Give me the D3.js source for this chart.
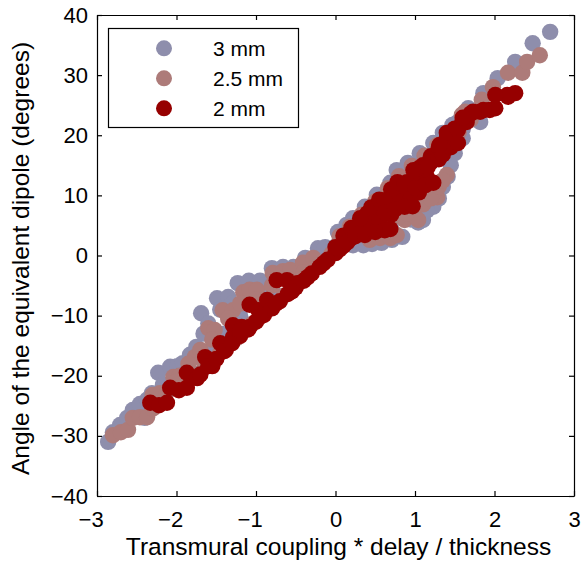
<!DOCTYPE html>
<html><head><meta charset="utf-8">
<script src="https://cdn.jsdelivr.net/npm/d3@7"></script>
<style>
body{margin:0;background:#fff}
svg{display:block}
text{font-family:"Liberation Sans",Arial,Helvetica,sans-serif;fill:#000}
</style>
</head><body>
<svg id="chart" width="582" height="562"></svg>
<script>
// ---------- data ----------
const xTicks = [-3, -2, -1, 0, 1, 2, 3];
const yTicks = [-40, -30, -20, -10, 0, 10, 20, 30, 40];
const xLabel = "Transmural coupling * delay / thickness";
const yLabel = "Angle of the equivalent dipole (degrees)";
const seriesNames = ["3 mm", "2.5 mm", "2 mm"];
const seriesColors = ["#8e8eac", "#ad7b79", "#960000"];

const mm3 = [
  [-2.86,-31.0],[-2.80,-29.4],[-2.71,-28.2],[-2.62,-27.0],[-2.55,-25.7],[-2.46,-24.7],[-2.37,-24.0],[-2.31,-22.9],
  [-2.23,-19.5],[-2.17,-21.5],[-2.08,-18.5],[-1.99,-18.4],[-1.92,-17.9],[-1.83,-16.5],[-1.75,-15.2],[-1.69,-9.6],
  [-1.66,-13.0],[-1.60,-11.3],[-1.49,-7.1],[-1.35,-6.9],[-1.23,-4.6],[-1.09,-4.2],[-0.95,-4.2],[-0.80,-2.1],
  [-0.66,-1.9],[-0.53,-1.9],[-0.38,-0.4],[-0.22,1.2],[-0.13,1.4],
  [-2.40,-27.0],[-2.20,-24.5],[-2.00,-22.0],[-1.80,-19.5],[-1.55,-15.5],[-1.40,-13.0],[-1.20,-10.0],[-1.00,-7.5],
  [-0.80,-5.5],[-0.60,-3.5],[-0.40,-2.0],[-0.20,-0.5],[0.00,1.5],[0.20,3.5],[0.40,5.5],[0.60,8.0],[0.80,10.5],
  [1.00,13.0],[1.20,15.5],[1.40,18.0],[1.60,21.0],[1.75,23.5],
  [-1.45,-9.0],[-1.30,-8.0],[-1.10,-6.0],[-0.90,-5.0],[-0.70,-3.5],[-0.50,-2.5],
  [0.03,3.9],[0.14,5.1],[0.22,6.2],[0.37,8.1],[0.52,10.1],[0.69,12.1],[0.77,14.2],[0.91,15.4],[1.06,17.0],
  [1.23,18.7],[1.35,20.4],[1.47,21.7],[1.54,22.2],[1.67,24.5],[1.86,27.0],[2.04,29.5],[2.26,32.2],[2.48,35.3],[2.70,37.2],
  [0.22,1.7],[0.35,1.7],[0.46,1.9],[0.58,2.1],[0.71,2.6],[0.84,3.1],[1.04,5.5],[1.10,5.9],[1.23,8.1],
  [1.35,11.4],[1.41,13.1],[1.47,19.2],[1.82,22.2],
  [0.70,4.5],[0.95,6.0],[1.15,7.5],[1.30,9.5],[1.45,15.0],[1.50,17.0],[1.60,19.5]
];

const mm25 = [
  [-2.80,-29.9],[-2.70,-29.4],[-2.61,-29.0],[-2.55,-27.0],[-2.46,-26.9],[-2.37,-26.9],[-2.30,-23.2],[-2.21,-22.9],
  [-2.12,-22.7],[-2.04,-20.2],[-1.96,-20.0],[-1.86,-19.9],[-1.77,-16.9],[-1.70,-15.7],[-1.60,-12.1],[-1.52,-12.4],
  [-1.42,-9.1],[-1.29,-9.1],[-1.16,-6.1],[-1.08,-5.7],[-0.99,-5.7],[-0.79,-2.9],[-0.66,-2.6],[-0.57,-2.4],
  [-0.41,-1.2],[-0.28,-0.4],
  [-2.30,-25.5],[-2.15,-24.0],[-2.00,-22.0],[-1.85,-20.5],[-1.65,-18.6],[-1.45,-16.2],[-1.25,-13.8],[-1.05,-11.4],
  [-0.85,-9.0],[-0.65,-6.7],[-0.45,-4.4],[-0.25,-2.0],[-0.05,0.3],[0.15,2.6],[0.35,5.0],[0.55,7.4],[0.75,9.9],
  [0.95,12.5],[1.15,15.1],[1.35,17.8],[1.55,20.5],[1.70,22.6],
  [-2.00,-21.0],[-1.85,-18.0],[-1.55,-14.0],[-1.35,-10.5],[-1.20,-8.0],[-1.00,-7.3],[-0.80,-5.0],[-0.60,-3.8],[-0.40,-2.8],
  [0.05,3.2],[0.18,4.8],[0.33,6.8],[0.50,9.0],[0.66,11.2],[0.80,13.2],[0.96,14.9],[1.12,16.6],[1.28,18.4],
  [1.42,19.9],[1.59,23.4],[1.84,25.9],[1.98,28.0],[2.17,30.4],[2.35,30.4],[2.41,32.2],[2.57,33.3],
  [0.43,2.6],[0.56,2.9],[0.69,2.9],[0.77,3.4],[0.87,5.9],[1.00,6.4],[1.04,5.9],[1.28,9.7],[1.23,10.4],
  [1.40,13.4],[1.63,23.9],
  [0.30,3.5],[0.60,5.5],[0.80,6.5],[0.90,7.0],[1.10,8.5],[1.20,9.5],[1.30,11.5],[1.35,12.5],[1.10,12.0]
];

const mm2 = [
  [-2.33,-24.5],[-2.22,-24.9],[-2.12,-24.5],[-2.08,-22.0],[-1.97,-22.4],[-1.87,-22.0],[-1.87,-19.5],[-1.74,-20.4],
  [-1.64,-16.9],[-1.55,-18.4],[-1.45,-14.6],[-1.38,-15.7],[-1.29,-13.6],[-1.29,-11.6],[-1.18,-11.9],[-1.08,-11.9],
  [-1.08,-8.2],[-0.97,-9.1],[-0.90,-9.6],[-0.86,-7.4],[-0.74,-4.1],[-0.61,-4.1],[-0.48,-4.6],
  [-1.70,-19.8],[-1.60,-18.4],[-1.50,-17.2],[-1.40,-15.9],[-1.30,-14.6],[-1.20,-13.4],[-1.10,-12.3],[-1.00,-11.0],
  [-0.90,-9.9],[-0.80,-8.8],[-0.70,-7.6],[-0.60,-6.4],[-0.50,-5.3],[-0.40,-4.2],[-0.30,-3.0],[-0.20,-1.9],
  [-0.10,-0.7],[0.00,0.4],[0.10,1.6],[0.20,2.9],[0.30,4.1],[0.40,5.4],[0.50,6.7],[0.60,8.0],[0.70,9.4],
  [0.80,10.8],[0.90,12.2],[1.00,13.6],[1.10,15.0],[1.20,16.5],[1.30,18.0],[1.40,19.6],[1.50,21.1],[1.60,22.5],[1.70,23.6],
  [-1.20,-12.5],[-0.95,-10.2],[-0.75,-8.0],[-0.55,-6.0],[-0.35,-3.6],[-0.15,-1.3],[0.05,1.0],[0.25,3.5],[0.45,6.0],[0.65,8.6],
  [0.80,9.5],[0.90,10.5],[1.00,12.5],[1.15,13.0],[1.05,14.5],[1.20,15.5],[1.30,16.0],[1.35,16.8],[1.45,18.0],
  [0.00,1.4],[0.10,3.3],[0.20,4.6],[0.40,7.0],[0.45,8.0],[0.55,9.3],[0.70,11.0],[0.78,12.2],
  [0.15,2.2],[0.35,4.5],[0.55,5.8],[0.70,6.8],[0.85,9.0],[0.95,9.8],[1.05,10.5],[1.15,12.3],
  [0.31,6.2],[0.62,9.2],[0.87,11.9],[0.98,14.2],[1.16,14.7],[1.31,18.4],[1.40,20.4],[1.54,20.9],
  [1.65,22.2],[1.82,23.9],[1.94,24.2],[2.01,24.5],[2.17,26.4],
  [2.26,27.0],[2.16,26.7],[2.01,26.7],[1.86,24.2],[1.73,23.9],[1.60,22.9],
  [0.25,3.2],[0.37,3.4],[0.50,3.9],[0.62,4.2],[0.69,4.4],
  [0.62,7.2],[0.75,7.7],[0.87,8.1],[0.97,8.2],
  [1.01,11.2],[1.13,11.7],[1.23,12.1],
  [1.54,18.7]
];

const seriesData = [mm3, mm25, mm2];

// ---------- layout ----------
const W = 582, H = 562;
const plot = {l: 97, r: 574, t: 15, b: 496};
const R = 8.2;
const tickFont = 22, labelFont = 24.5, legendFont = 21;

const svg = d3.select("#chart");
svg.append("rect").attr("width", W).attr("height", H).attr("fill", "#fff");

const x = d3.scaleLinear().domain([-3, 3]).range([plot.l, plot.r]);
const y = d3.scaleLinear().domain([-40, 40]).range([plot.b, plot.t]);

// points
seriesData.forEach((data, i) => {
  svg.append("g")
    .selectAll("circle")
    .data(data)
    .join("circle")
    .attr("cx", d => x(d[0]))
    .attr("cy", d => y(d[1]))
    .attr("r", R)
    .attr("fill", seriesColors[i]);
});

// axes
const fmt = d => (d < 0 ? "\u2212" + Math.abs(d) : String(d));
const styleAxis = g => {
  g.selectAll(".domain").attr("stroke", "#000").attr("stroke-width", 1.2);
  g.selectAll(".tick line").attr("stroke", "#000").attr("stroke-width", 1.2);
  g.selectAll("text").attr("font-size", tickFont)
    .attr("font-family", '"Liberation Sans",Arial,Helvetica,sans-serif').attr("fill", "#000");
};

const gx = svg.append("g").attr("transform", `translate(0,${plot.b})`)
  .call(d3.axisBottom(x).tickValues(xTicks).tickFormat(fmt).tickSizeInner(-5).tickSizeOuter(0).tickPadding(15))
  .call(styleAxis);
gx.selectAll(".tick text").attr("dx", d => (d < 0 ? "-0.292em" : 0));

svg.append("g").attr("transform", `translate(${plot.l},0)`)
  .call(d3.axisLeft(y).tickValues(yTicks).tickFormat(fmt).tickSizeInner(-5).tickSizeOuter(0).tickPadding(9))
  .call(styleAxis);

svg.append("g").attr("transform", `translate(0,${plot.t})`)
  .call(d3.axisTop(x).tickValues(xTicks).tickFormat("").tickSizeInner(-5).tickSizeOuter(0))
  .call(styleAxis);

svg.append("g").attr("transform", `translate(${plot.r},0)`)
  .call(d3.axisRight(y).tickValues(yTicks).tickFormat("").tickSizeInner(-5).tickSizeOuter(0))
  .call(styleAxis);

// axis labels
svg.append("text")
  .attr("x", (plot.l + plot.r) / 2 + 3)
  .attr("y", 555)
  .attr("text-anchor", "middle")
  .attr("font-size", labelFont)
  .text(xLabel);

svg.append("text")
  .attr("transform", `translate(29,${(plot.t + plot.b) / 2 + 3}) rotate(-90)`)
  .attr("text-anchor", "middle")
  .attr("font-size", labelFont)
  .text(yLabel);

// legend
const lg = svg.append("g");
lg.append("rect")
  .attr("x", 108.5).attr("y", 28.5).attr("width", 190).attr("height", 99)
  .attr("fill", "#fff").attr("stroke", "#000").attr("stroke-width", 1.2);
seriesNames.forEach((name, i) => {
  const cy = 48.3 + i * 30;
  lg.append("circle").attr("cx", 164).attr("cy", cy).attr("r", 8).attr("fill", seriesColors[i]);
  lg.append("text").attr("x", 213).attr("y", cy + 7.8).attr("font-size", legendFont).text(name);
});
</script>
</body></html>
